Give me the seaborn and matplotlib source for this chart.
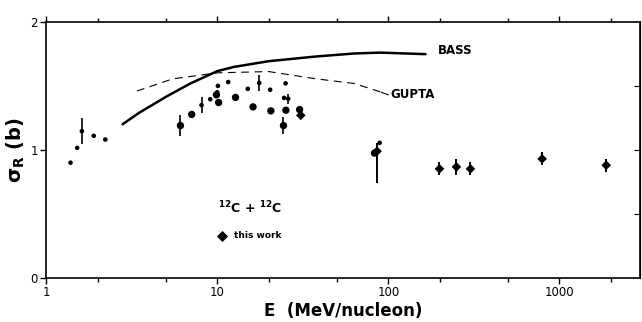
import matplotlib
matplotlib.use("Agg")
import matplotlib.pyplot as plt
import matplotlib.ticker as mticker
import numpy as np
import pandas as pd
import seaborn as sns

sns.set_style("ticks")
plt.rcParams['font.family'] = ['DejaVu Sans']
for k in ["text.color", "axes.labelcolor", "xtick.color", "ytick.color", "axes.edgecolor"]:
    plt.rcParams[k] = "black"

# BASS (solid) and GUPTA (dashed) calculations
bass_e = [2.8, 3.5, 5.1, 7.0, 10.0, 12.5, 20.0, 38.0, 63.0, 90.0, 165.0]
bass_s = [1.20, 1.29, 1.42, 1.52, 1.615, 1.648, 1.693, 1.730, 1.753, 1.760, 1.748]
gupta_e = [3.4, 5.5, 10.0, 20.0, 38.0, 63.0, 90.0]
gupta_s = [1.46, 1.555, 1.602, 1.612, 1.555, 1.519, 1.453]

# other measurements, small dots
small_e = [1.39, 1.52, 1.62, 1.90, 2.22, 8.1, 9.1, 10.1, 10.0, 11.6, 15.1, 17.6, 20.4, 25.1, 24.6, 26.0, 89.0]
small_s = [0.90, 1.016, 1.146, 1.11, 1.081, 1.35, 1.396, 1.50, 1.45, 1.53, 1.477, 1.523, 1.47, 1.52, 1.406, 1.40, 1.055]
small_err = [0, 0, 0.10, 0, 0, 0.065, 0, 0, 0, 0, 0, 0.06, 0, 0, 0, 0.04, 0]

# other measurements, large dots
big_e = [6.1, 7.1, 10.2, 9.9, 12.8, 16.2, 20.6, 24.4, 25.2, 30.3, 83.0]
big_s = [1.19, 1.277, 1.37, 1.43, 1.41, 1.336, 1.305, 1.19, 1.31, 1.315, 0.975]
big_err = [0.08, 0, 0, 0, 0, 0, 0, 0.065, 0, 0, 0]

# this work
work_e = [30.8, 86.0, 199.0, 250.0, 302.0, 792.0, 1875.0]
work_s = [1.27, 0.99, 0.852, 0.867, 0.852, 0.93, 0.88]
work_lo = [0.03, 0.25, 0.05, 0.06, 0.05, 0.05, 0.05]
work_hi = [0.03, 0.06, 0.05, 0.06, 0.05, 0.05, 0.05]

fig = plt.figure(figsize=(6.42, 3.22), dpi=100)
ax = fig.add_axes([0.0717, 0.137, 0.925, 0.795])

curves = pd.concat([
    pd.DataFrame({"E": bass_e, "sigma": bass_s, "model": "BASS"}),
    pd.DataFrame({"E": gupta_e, "sigma": gupta_s, "model": "GUPTA"}),
])
sns.lineplot(data=curves[curves.model == "BASS"], x="E", y="sigma", color="black",
             lw=1.8, ax=ax, legend=False)
sns.lineplot(data=curves[curves.model == "GUPTA"], x="E", y="sigma", color="black",
             lw=0.8, ax=ax, legend=False)
ax.lines[-1].set_dashes((7, 5))

ax.errorbar(small_e, small_s, yerr=small_err, fmt="none", ecolor="black", elinewidth=1.2)
ax.errorbar(big_e, big_s, yerr=big_err, fmt="none", ecolor="black", elinewidth=1.2)
ax.errorbar(work_e, work_s, yerr=[work_lo, work_hi], fmt="none", ecolor="black", elinewidth=1.4)

sns.scatterplot(x=small_e, y=small_s, color="black", s=11, edgecolor="none", ax=ax)
sns.scatterplot(x=big_e, y=big_s, color="black", s=28, edgecolor="none", ax=ax)
sns.scatterplot(x=work_e, y=work_s, color="black", s=24, marker="D", edgecolor="none", ax=ax)

ax.set_xscale("log")
ax.set_xlim(1, 2950)
ax.set_ylim(0, 2)

ax.xaxis.set_major_locator(mticker.FixedLocator([1, 10, 100, 1000]))
ax.xaxis.set_major_formatter(mticker.FixedFormatter(["1", "10", "100", "1000"]))
ax.xaxis.set_minor_locator(mticker.FixedLocator([2, 5, 20, 50, 200, 500, 2000]))
ax.xaxis.set_minor_formatter(mticker.NullFormatter())
ax.set_yticks([0, 1, 2])
ax.set_yticklabels(["0", "1", "2"])
ax.tick_params(which="both", direction="out", top=True, right=False, labelsize=8.5,
               width=1, length=4, pad=2)
ax.tick_params(which="minor", length=3)

sec = ax.secondary_yaxis("right")
sec.set_yticks([0.5, 1, 1.5])
sec.tick_params(direction="in", labelright=False, length=4)

for sp in ax.spines.values():
    sp.set_linewidth(1.2)

ax.set_xlabel("E  (MeV/nucleon)", fontsize=12, fontweight="bold", labelpad=2)
ax.set_ylabel(r"$\mathbf{\sigma_R}$ (b)", fontsize=14, fontweight="bold", labelpad=2)

ax.text(196, 1.78, "BASS", fontsize=8.5, fontweight="bold", va="center")
ax.text(103, 1.43, "GUPTA", fontsize=8.5, fontweight="bold", va="center")
ax.plot([91, 100], [1.45, 1.43], color="black", lw=0.8)
ax.text(15.6, 0.545, r"$^{\mathbf{12}}$C + $^{\mathbf{12}}$C", fontsize=9, fontweight="bold",
        ha="center", va="center")
ax.scatter([10.7], [0.328], color="black", s=22, marker="D")
ax.text(12.6, 0.328, "this work", fontsize=6.5, fontweight="bold", va="center")

fig.savefig("out.png", dpi=100)
